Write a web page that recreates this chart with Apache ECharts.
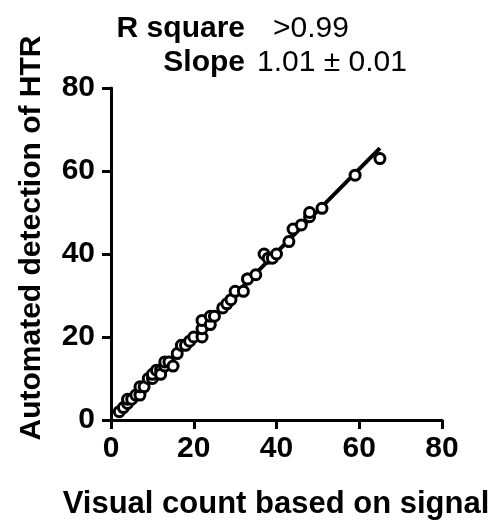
<!DOCTYPE html>
<html>
<head>
<meta charset="utf-8">
<script src="https://cdn.jsdelivr.net/npm/echarts@6/dist/echarts.min.js"></script>
<style>
  html, body { margin: 0; padding: 0; background: #fff; }
  #chart { width: 498px; height: 523px; }
</style>
</head>
<body>
<div id="chart"></div>
<script>
// visual count (x) vs automated detection (y)
const visualCount = [2, 3, 4, 4, 5, 6, 7, 7, 8, 9, 10, 10, 11, 12, 12, 13, 13, 14, 15, 16, 17, 18, 19, 20, 22, 22, 22, 24, 24, 25, 27, 28, 29, 30, 32, 33, 33, 35, 37, 38, 39, 40, 43, 44, 46, 48, 48, 51, 59, 65];
const autoCount   = [2, 3, 4, 5, 5, 6, 6, 8, 8, 10, 10, 11, 12, 12, 11, 13, 14, 14, 13, 16, 18, 18, 19, 20, 20, 22, 24, 23, 25, 25, 27, 28, 29, 31, 31, 34, 34, 35, 40, 39, 39, 40, 43, 46, 47, 49, 50, 51, 59, 63];
const axisTicks = [0, 20, 40, 60, 80];

const fontFam = '"Liberation Sans", Arial, sans-serif';

// least squares fit through the points
const n = visualCount.length;
let sx = 0, sy = 0, sxx = 0, sxy = 0;
for (let i = 0; i < n; i++) {
  sx += visualCount[i];
  sy += autoCount[i];
  sxx += visualCount[i] * visualCount[i];
  sxy += visualCount[i] * autoCount[i];
}
const slope = (n * sxy - sx * sy) / (n * sxx - sx * sx);
const intercept = (sy - slope * sx) / n;
const xMin = Math.min(...visualCount);
const xMax = Math.max(...visualCount);
const fitLine = [[xMin, intercept + slope * xMin], [xMax, intercept + slope * xMax]];

const points = visualCount.map((v, i) => [v, autoCount[i]]);

function makeAxis(labelMargin) {
  return {
    type: 'value',
    min: axisTicks[0],
    max: axisTicks[axisTicks.length - 1],
    interval: axisTicks[1] - axisTicks[0],
    axisLine: { show: true, lineStyle: { color: '#000', width: 3 } },
    axisTick: { show: true, length: 9, lineStyle: { color: '#000', width: 3 } },
    splitLine: { show: false },
    axisLabel: { color: '#000', fontSize: 30, fontWeight: 'bold', fontFamily: fontFam, margin: labelMargin },
  };
}

const chart = echarts.init(document.getElementById('chart'));
chart.setOption({
  animation: false,
  backgroundColor: '#fff',
  grid: { left: 111, right: 56, top: 88, bottom: 103 },
  xAxis: makeAxis(14),
  yAxis: makeAxis(16),
  graphic: [
    {
      type: 'text', x: 245, y: 29,
      style: { text: 'R square', fill: '#000', font: 'bold 30px ' + fontFam, textAlign: 'right', textVerticalAlign: 'middle' },
    },
    {
      type: 'text', x: 273, y: 29,
      style: { text: '>0.99', fill: '#000', font: '30px ' + fontFam, textAlign: 'left', textVerticalAlign: 'middle' },
    },
    {
      type: 'text', x: 245, y: 63,
      style: { text: 'Slope', fill: '#000', font: 'bold 30px ' + fontFam, textAlign: 'right', textVerticalAlign: 'middle' },
    },
    {
      type: 'text', x: 257, y: 63,
      style: { text: '1.01 ± 0.01', fill: '#000', font: '30px ' + fontFam, textAlign: 'left', textVerticalAlign: 'middle' },
    },
    {
      type: 'text', x: 276, y: 504,
      style: { text: 'Visual count based on signal', fill: '#000', font: 'bold 31px ' + fontFam, textAlign: 'center', textVerticalAlign: 'middle' },
    },
    {
      type: 'text', x: 32, y: 238, rotation: Math.PI / 2,
      style: { text: 'Automated detection of HTR', fill: '#000', font: 'bold 30px ' + fontFam, textAlign: 'center', textVerticalAlign: 'middle' },
    },
  ],
  series: [
    {
      type: 'line',
      data: fitLine,
      symbol: 'none',
      lineStyle: { color: '#000', width: 4 },
      z: 2,
    },
    {
      type: 'scatter',
      data: points,
      symbol: 'circle',
      symbolSize: 10,
      itemStyle: { color: '#fff', borderColor: '#000', borderWidth: 3, opacity: 1 },
      z: 3,
    },
  ],
});
</script>
</body>
</html>
